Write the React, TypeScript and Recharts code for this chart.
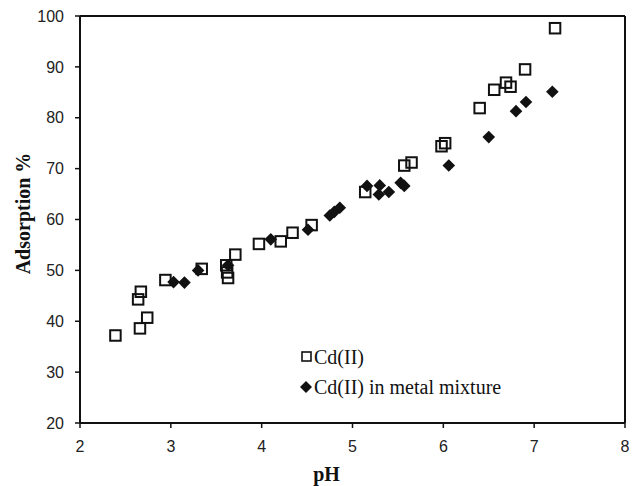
import React from "react";
import { ScatterChart, Scatter, XAxis, YAxis, ReferenceLine } from "recharts";

const cdPH = [2.39, 2.64, 2.67, 2.66, 2.74, 2.94, 3.34, 3.61, 3.62, 3.63, 3.71, 3.97, 4.21, 4.34, 4.55, 5.14, 5.57, 5.65, 5.98, 6.02, 6.40, 6.56, 6.69, 6.74, 6.90, 7.23];
const cdAds = [37.2, 44.3, 45.8, 38.6, 40.7, 48.1, 50.3, 51.0, 49.6, 48.5, 53.1, 55.2, 55.7, 57.4, 58.9, 65.4, 70.6, 71.2, 74.4, 75.0, 81.9, 85.5, 86.9, 86.1, 89.5, 97.6];
const mixPH = [3.03, 3.15, 3.30, 3.63, 4.10, 4.51, 4.75, 4.80, 4.86, 5.16, 5.29, 5.30, 5.40, 5.53, 5.57, 6.06, 6.50, 6.80, 6.91, 7.20];
const mixAds = [47.7, 47.6, 50.0, 51.0, 56.1, 58.0, 60.8, 61.5, 62.3, 66.6, 64.9, 66.7, 65.4, 67.2, 66.6, 70.6, 76.2, 81.3, 83.1, 85.1];
const xTicks = [2, 3, 4, 5, 6, 7, 8];
const yTicks = [20, 30, 40, 50, 60, 70, 80, 90, 100];
const seriesNames = ["Cd(II)", "Cd(II) in metal mixture"];
const xTitle = "pH";
const yTitle = "Adsorption %";

const cdData = cdPH.map((x, i) => ({ x, y: cdAds[i] }));
const mixData = mixPH.map((x, i) => ({ x, y: mixAds[i] }));

const Square = (props: any) => {
  const { cx, cy } = props;
  const s = 10.5;
  return <rect x={cx - s / 2} y={cy - s / 2} width={s} height={s} fill="none" stroke="#111" strokeWidth={2} />;
};

const Diamond = (props: any) => {
  const { cx, cy } = props;
  const r = 6.3;
  return <path d={`M${cx},${cy - r}L${cx + r},${cy}L${cx},${cy + r}L${cx - r},${cy}Z`} fill="#111" />;
};

const titleStyle = { fontFamily: "Liberation Serif", fontWeight: "bold" as const, fontSize: 20, fill: "#111" };

const XTitle = (props: any) => {
  const vb = props.viewBox || {};
  return (
    <text x={vb.x + vb.width / 2 - 26} y={vb.y + 58} textAnchor="middle" style={titleStyle}>
      {xTitle}
    </text>
  );
};

const YTitle = (props: any) => {
  const vb = props.viewBox || {};
  const x = vb.x + 30;
  const y = vb.y + vb.height / 2 - 6;
  return (
    <text x={x} y={y} textAnchor="middle" transform={`rotate(-90, ${x}, ${y})`} style={titleStyle}>
      {yTitle}
    </text>
  );
};

const LegendBox = () => (
  <div style={{ position: "absolute", left: 299, top: 342, fontFamily: "Liberation Serif", fontSize: 20, color: "#111", lineHeight: "30px", whiteSpace: "nowrap" }}>
    <div style={{ display: "flex", alignItems: "center" }}>
      <svg width={14} height={14} style={{ marginRight: 1 }}>
        <rect x={3} y={2} width={9} height={9} fill="none" stroke="#111" strokeWidth={1.6} />
      </svg>
      <span>{seriesNames[0]}</span>
    </div>
    <div style={{ display: "flex", alignItems: "center" }}>
      <svg width={14} height={14} style={{ marginRight: 1 }}>
        <path d="M7,1L13,7L7,13L1,7Z" fill="#111" />
      </svg>
      <span>{seriesNames[1]}</span>
    </div>
  </div>
);

export default function App() {
  return (
    <div style={{ position: "absolute", left: 0, top: 0, width: 636, height: 486, background: "#fff" }}>
      <ScatterChart width={636} height={486} margin={{ top: 16, right: 11, left: 0, bottom: 0 }}>
        <XAxis
          type="number"
          dataKey="x"
          domain={[2, 8]}
          ticks={xTicks}
          height={63}
          tickSize={5}
          tickMargin={13}
          axisLine={{ stroke: "#111", strokeWidth: 2 }}
          tickLine={{ stroke: "#111", strokeWidth: 1.5 }}
          tick={{ fill: "#222", fontSize: 16, fontFamily: "Liberation Sans" }}
          label={<XTitle />}
        />
        <YAxis
          type="number"
          dataKey="y"
          domain={[20, 100]}
          ticks={yTicks}
          width={80}
          tickSize={5}
          tickMargin={11}
          axisLine={{ stroke: "#111", strokeWidth: 2 }}
          tickLine={{ stroke: "#111", strokeWidth: 1.5 }}
          tick={{ fill: "#222", fontSize: 16, fontFamily: "Liberation Sans" }}
          label={<YTitle />}
        />
        <ReferenceLine y={100} stroke="#111" strokeWidth={2} />
        <ReferenceLine x={8} stroke="#111" strokeWidth={2} />
        <Scatter name={seriesNames[0]} data={cdData} shape={Square} isAnimationActive={false} />
        <Scatter name={seriesNames[1]} data={mixData} shape={Diamond} isAnimationActive={false} />
      </ScatterChart>
      <LegendBox />
    </div>
  );
}
